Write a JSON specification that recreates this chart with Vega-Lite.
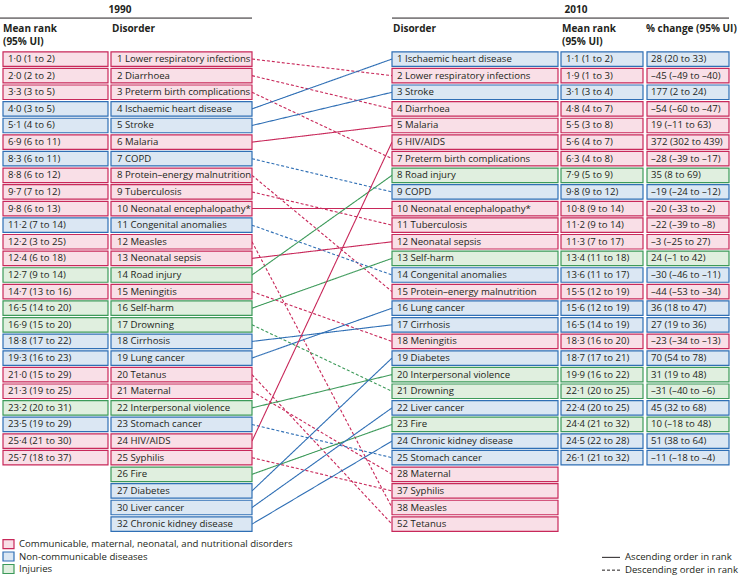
{
  "$schema": "https://vega.github.io/schema/vega-lite/v6.json",
  "width": 741,
  "height": 583,
  "autosize": "none",
  "padding": 0,
  "background": "white",
  "config": {
    "view": {"stroke": null},
    "axis": {"disable": true},
    "legend": {"disable": true},
    "text": {"font": "Open Sans", "fontSize": 9.6, "color": "#231f20", "baseline": "middle", "align": "left"}
  },
  "data": {"values": [
    {"name": "LRI", "cat": "C", "r90": 1, "label90": "1 Lower respiratory infections", "mr90": "1·0 (1 to 2)", "r10": 2, "label10": "2 Lower respiratory infections", "mr10": "1·9 (1 to 3)", "pc10": "–45 (–49 to –40)", "dir": "desc"},
    {"name": "Diarrhoea", "cat": "C", "r90": 2, "label90": "2 Diarrhoea", "mr90": "2·0 (2 to 2)", "r10": 4, "label10": "4 Diarrhoea", "mr10": "4·8 (4 to 7)", "pc10": "–54 (–60 to –47)", "dir": "desc"},
    {"name": "Preterm", "cat": "C", "r90": 3, "label90": "3 Preterm birth complications", "mr90": "3·3 (3 to 5)", "r10": 7, "label10": "7 Preterm birth complications", "mr10": "6·3 (4 to 8)", "pc10": "–28 (–39 to –17)", "dir": "desc"},
    {"name": "IHD", "cat": "N", "r90": 4, "label90": "4  Ischaemic heart disease", "mr90": "4·0 (3 to 5)", "r10": 1, "label10": "1 Ischaemic heart disease", "mr10": "1·1 (1 to 2)", "pc10": "28 (20 to 33)", "dir": "asc"},
    {"name": "Stroke", "cat": "N", "r90": 5, "label90": "5 Stroke", "mr90": "5·1 (4 to 6)", "r10": 3, "label10": "3 Stroke", "mr10": "3·1 (3 to 4)", "pc10": "177 (2 to 24)", "dir": "asc"},
    {"name": "Malaria", "cat": "C", "r90": 6, "label90": "6 Malaria", "mr90": "6·9 (6 to 11)", "r10": 5, "label10": "5 Malaria", "mr10": "5·5 (3 to 8)", "pc10": "19 (–11 to 63)", "dir": "asc"},
    {"name": "COPD", "cat": "N", "r90": 7, "label90": "7 COPD", "mr90": "8·3 (6 to 11)", "r10": 9, "label10": "9 COPD", "mr10": "9·8 (9 to 12)", "pc10": "–19 (–24 to –12)", "dir": "desc"},
    {"name": "PEM", "cat": "C", "r90": 8, "label90": "8 Protein–energy malnutrition", "mr90": "8·8 (6 to 12)", "r10": 15, "label10": "15 Protein–energy malnutrition", "mr10": "15·5 (12 to 19)", "pc10": "–44 (–53 to –34)", "dir": "desc"},
    {"name": "TB", "cat": "C", "r90": 9, "label90": "9 Tuberculosis", "mr90": "9·7 (7 to 12)", "r10": 11, "label10": "11 Tuberculosis", "mr10": "11·2 (9 to 14)", "pc10": "–22 (–39 to –8)", "dir": "desc"},
    {"name": "NE", "cat": "C", "r90": 10, "label90": "10 Neonatal encephalopathy*", "mr90": "9·8 (6 to 13)", "r10": 10, "label10": "10 Neonatal encephalopathy*", "mr10": "10·8 (9 to 14)", "pc10": "–20 (–33 to –2)", "dir": "asc"},
    {"name": "Congenital", "cat": "N", "r90": 11, "label90": "11 Congenital anomalies", "mr90": "11·2 (7 to 14)", "r10": 14, "label10": "14 Congenital anomalies", "mr10": "13·6 (11 to 17)", "pc10": "–30 (–46 to –11)", "dir": "desc"},
    {"name": "Measles", "cat": "C", "r90": 12, "label90": "12 Measles", "mr90": "12·2 (3 to 25)", "r10": 28, "label10": "38 Measles", "mr10": null, "pc10": null, "dir": "desc"},
    {"name": "NS", "cat": "C", "r90": 13, "label90": "13 Neonatal sepsis", "mr90": "12·4 (6 to 18)", "r10": 12, "label10": "12 Neonatal sepsis", "mr10": "11·3 (7 to 17)", "pc10": "–3 (–25 to 27)", "dir": "asc"},
    {"name": "Road", "cat": "I", "r90": 14, "label90": "14 Road injury", "mr90": "12·7 (9 to 14)", "r10": 8, "label10": "8 Road injury", "mr10": "7·9 (5 to 9)", "pc10": "35 (8 to 69)", "dir": "asc"},
    {"name": "Meningitis", "cat": "C", "r90": 15, "label90": "15 Meningitis", "mr90": "14·7 (13 to 16)", "r10": 18, "label10": "18 Meningitis", "mr10": "18·3 (16 to 20)", "pc10": "–23 (–34 to –13)", "dir": "desc"},
    {"name": "SelfHarm", "cat": "I", "r90": 16, "label90": "16 Self-harm", "mr90": "16·5 (14 to 20)", "r10": 13, "label10": "13 Self-harm", "mr10": "13·4 (11 to 18)", "pc10": "24 (–1 to 42)", "dir": "asc"},
    {"name": "Drowning", "cat": "I", "r90": 17, "label90": "17 Drowning", "mr90": "16·9 (15 to 20)", "r10": 21, "label10": "21 Drowning", "mr10": "22·1 (20 to 25)", "pc10": "–31 (–40 to –6)", "dir": "desc"},
    {"name": "Cirrhosis", "cat": "N", "r90": 18, "label90": "18 Cirrhosis", "mr90": "18·8 (17 to 22)", "r10": 17, "label10": "17 Cirrhosis", "mr10": "16·5 (14 to 19)", "pc10": "27 (19 to 36)", "dir": "asc"},
    {"name": "Lung", "cat": "N", "r90": 19, "label90": "19 Lung cancer", "mr90": "19·3 (16 to 23)", "r10": 16, "label10": "16 Lung cancer", "mr10": "15·6 (12 to 19)", "pc10": "36 (18 to 47)", "dir": "asc"},
    {"name": "Tetanus", "cat": "C", "r90": 20, "label90": "20 Tetanus", "mr90": "21·0 (15 to 29)", "r10": 29, "label10": "52 Tetanus", "mr10": null, "pc10": null, "dir": "desc"},
    {"name": "Maternal", "cat": "C", "r90": 21, "label90": "21 Maternal", "mr90": "21·3 (19 to 25)", "r10": 26, "label10": "28 Maternal", "mr10": null, "pc10": null, "dir": "desc"},
    {"name": "Violence", "cat": "I", "r90": 22, "label90": "22 Interpersonal violence", "mr90": "23·2 (20 to 31)", "r10": 20, "label10": "20 Interpersonal violence", "mr10": "19·9 (16 to 22)", "pc10": "31 (19 to 48)", "dir": "asc"},
    {"name": "Stomach", "cat": "N", "r90": 23, "label90": "23 Stomach cancer", "mr90": "23·5 (19 to 29)", "r10": 25, "label10": "25 Stomach cancer", "mr10": "26·1 (21 to 32)", "pc10": "–11 (–18 to –4)", "dir": "desc"},
    {"name": "HIV", "cat": "C", "r90": 24, "label90": "24 HIV/AIDS", "mr90": "25·4 (21 to 30)", "r10": 6, "label10": "6 HIV/AIDS", "mr10": "5·6 (4 to 7)", "pc10": "372 (302 to 439)", "dir": "asc"},
    {"name": "Syphilis", "cat": "C", "r90": 25, "label90": "25 Syphilis", "mr90": "25·7 (18 to 37)", "r10": 27, "label10": "37 Syphilis", "mr10": null, "pc10": null, "dir": "desc"},
    {"name": "Fire", "cat": "I", "r90": 26, "label90": "26 Fire", "mr90": null, "r10": 23, "label10": "23 Fire", "mr10": "24·4 (21 to 32)", "pc10": "10 (–18 to 48)", "dir": "asc"},
    {"name": "Diabetes", "cat": "N", "r90": 27, "label90": "27 Diabetes", "mr90": null, "r10": 19, "label10": "19 Diabetes", "mr10": "18·7 (17 to 21)", "pc10": "70 (54 to 78)", "dir": "asc"},
    {"name": "Liver", "cat": "N", "r90": 28, "label90": "30 Liver cancer", "mr90": null, "r10": 22, "label10": "22 Liver cancer", "mr10": "22·4 (20 to 25)", "pc10": "45 (32 to 68)", "dir": "asc"},
    {"name": "CKD", "cat": "N", "r90": 29, "label90": "32 Chronic kidney disease", "mr90": null, "r10": 24, "label10": "24 Chronic kidney disease", "mr10": "24·5 (22 to 28)", "pc10": "51 (38 to 64)", "dir": "asc"}
  ]},
  "layer": [
    {
      "mark": {"type": "rule", "strokeWidth": 1.1},
      "encoding": {
        "x": {"datum": 252, "type": "quantitative", "scale": {"domain": [0, 741], "nice": false, "zero": false}},
        "x2": {"datum": 392},
        "y": {"field": "r90", "type": "quantitative", "scale": {"domain": [-2.254, 32.243], "nice": false, "zero": false, "reverse": true}},
        "y2": {"field": "r10"},
        "color": {"field": "cat", "type": "nominal", "scale": {"domain": ["C", "N", "I"], "range": ["#c8285a", "#2f6fb5", "#3d9a5a"]}},
        "strokeDash": {"field": "dir", "type": "nominal", "scale": {"domain": ["asc", "desc"], "range": [[1, 0], [3, 2]]}}
      }
    },
    {
      "transform": [{"filter": "datum.mr90 != null"}],
      "mark": {"type": "bar", "orient": "horizontal", "size": 14.5, "strokeWidth": 1.2},
      "encoding": {
        "x": {"datum": 3, "type": "quantitative"},
        "x2": {"datum": 108},
        "y": {"field": "r90", "type": "quantitative"},
        "fill": {"field": "cat", "type": "nominal", "scale": {"domain": ["C", "N", "I"], "range": ["#f9dfe7", "#dbe7f3", "#e0efdf"]}},
        "stroke": {"field": "cat", "type": "nominal", "scale": {"domain": ["C", "N", "I"], "range": ["#c8285a", "#2f6fb5", "#3d9a5a"]}}
      }
    },
    {
      "mark": {"type": "bar", "orient": "horizontal", "size": 14.5, "strokeWidth": 1.2},
      "encoding": {
        "x": {"datum": 111, "type": "quantitative"},
        "x2": {"datum": 252},
        "y": {"field": "r90", "type": "quantitative"},
        "fill": {"field": "cat", "type": "nominal"},
        "stroke": {"field": "cat", "type": "nominal"}
      }
    },
    {
      "mark": {"type": "bar", "orient": "horizontal", "size": 14.5, "strokeWidth": 1.2},
      "encoding": {
        "x": {"datum": 392, "type": "quantitative"},
        "x2": {"datum": 558},
        "y": {"field": "r10", "type": "quantitative"},
        "fill": {"field": "cat", "type": "nominal"},
        "stroke": {"field": "cat", "type": "nominal"}
      }
    },
    {
      "transform": [{"filter": "datum.mr10 != null"}],
      "mark": {"type": "bar", "orient": "horizontal", "size": 14.5, "strokeWidth": 1.2},
      "encoding": {
        "x": {"datum": 561, "type": "quantitative"},
        "x2": {"datum": 643},
        "y": {"field": "r10", "type": "quantitative"},
        "fill": {"field": "cat", "type": "nominal"},
        "stroke": {"field": "cat", "type": "nominal"}
      }
    },
    {
      "transform": [{"filter": "datum.pc10 != null"}],
      "mark": {"type": "bar", "orient": "horizontal", "size": 14.5, "strokeWidth": 1.2},
      "encoding": {
        "x": {"datum": 647, "type": "quantitative"},
        "x2": {"datum": 729},
        "y": {"field": "r10", "type": "quantitative"},
        "fill": {"field": "cat", "type": "nominal"},
        "stroke": {"field": "cat", "type": "nominal"}
      }
    },
    {
      "transform": [{"filter": "datum.mr90 != null"}],
      "mark": {"type": "text"},
      "encoding": {"x": {"datum": 8, "type": "quantitative"}, "y": {"field": "r90", "type": "quantitative"}, "text": {"field": "mr90"}}
    },
    {
      "mark": {"type": "text"},
      "encoding": {"x": {"datum": 117, "type": "quantitative"}, "y": {"field": "r90", "type": "quantitative"}, "text": {"field": "label90"}}
    },
    {
      "mark": {"type": "text"},
      "encoding": {"x": {"datum": 397, "type": "quantitative"}, "y": {"field": "r10", "type": "quantitative"}, "text": {"field": "label10"}}
    },
    {
      "transform": [{"filter": "datum.mr10 != null"}],
      "mark": {"type": "text"},
      "encoding": {"x": {"datum": 566, "type": "quantitative"}, "y": {"field": "r10", "type": "quantitative"}, "text": {"field": "mr10"}}
    },
    {
      "transform": [{"filter": "datum.pc10 != null"}],
      "mark": {"type": "text"},
      "encoding": {"x": {"datum": 651, "type": "quantitative"}, "y": {"field": "r10", "type": "quantitative"}, "text": {"field": "pc10"}}
    },
    {
      "data": {"values": [{}]},
      "layer": [
        {"mark": {"type": "rule", "color": "#231f20", "strokeWidth": 1}, "encoding": {"x": {"datum": 0, "type": "quantitative"}, "x2": {"datum": 252}, "y": {"datum": -1.467, "type": "quantitative"}}},
        {"mark": {"type": "rule", "color": "#231f20", "strokeWidth": 1}, "encoding": {"x": {"datum": 392, "type": "quantitative"}, "x2": {"datum": 729}, "y": {"datum": -1.467, "type": "quantitative"}}},
        {"mark": {"type": "text", "text": "1990", "fontWeight": "bold", "fontSize": 10, "align": "center"}, "encoding": {"x": {"datum": 120, "type": "quantitative"}, "y": {"datum": -1.96, "type": "quantitative"}}},
        {"mark": {"type": "text", "text": "2010", "fontWeight": "bold", "fontSize": 10, "align": "center"}, "encoding": {"x": {"datum": 576, "type": "quantitative"}, "y": {"datum": -1.96, "type": "quantitative"}}},
        {"mark": {"type": "text", "text": "Mean rank", "fontWeight": "bold", "fontSize": 10}, "encoding": {"x": {"datum": 3, "type": "quantitative"}, "y": {"datum": -0.82, "type": "quantitative"}}},
        {"mark": {"type": "text", "text": "(95% UI)", "fontWeight": "bold", "fontSize": 10}, "encoding": {"x": {"datum": 3, "type": "quantitative"}, "y": {"datum": 0.0, "type": "quantitative"}}},
        {"mark": {"type": "text", "text": "Disorder", "fontWeight": "bold", "fontSize": 10}, "encoding": {"x": {"datum": 112, "type": "quantitative"}, "y": {"datum": -0.82, "type": "quantitative"}}},
        {"mark": {"type": "text", "text": "Disorder", "fontWeight": "bold", "fontSize": 10}, "encoding": {"x": {"datum": 393, "type": "quantitative"}, "y": {"datum": -0.82, "type": "quantitative"}}},
        {"mark": {"type": "text", "text": "Mean rank", "fontWeight": "bold", "fontSize": 10}, "encoding": {"x": {"datum": 562, "type": "quantitative"}, "y": {"datum": -0.82, "type": "quantitative"}}},
        {"mark": {"type": "text", "text": "(95% UI)", "fontWeight": "bold", "fontSize": 10}, "encoding": {"x": {"datum": 562, "type": "quantitative"}, "y": {"datum": 0.0, "type": "quantitative"}}},
        {"mark": {"type": "text", "text": "% change (95% UI)", "fontWeight": "bold", "fontSize": 10}, "encoding": {"x": {"datum": 646, "type": "quantitative"}, "y": {"datum": -0.82, "type": "quantitative"}}},
        {"mark": {"type": "bar", "orient": "horizontal", "size": 9, "fill": "#f9dfe7", "stroke": "#c8285a", "strokeWidth": 1.2}, "encoding": {"x": {"datum": 3, "type": "quantitative"}, "x2": {"datum": 14}, "y": {"datum": 30.2, "type": "quantitative"}}},
        {"mark": {"type": "bar", "orient": "horizontal", "size": 9, "fill": "#dbe7f3", "stroke": "#2f6fb5", "strokeWidth": 1.2}, "encoding": {"x": {"datum": 3, "type": "quantitative"}, "x2": {"datum": 14}, "y": {"datum": 30.95, "type": "quantitative"}}},
        {"mark": {"type": "bar", "orient": "horizontal", "size": 9, "fill": "#e0efdf", "stroke": "#3d9a5a", "strokeWidth": 1.2}, "encoding": {"x": {"datum": 3, "type": "quantitative"}, "x2": {"datum": 14}, "y": {"datum": 31.7, "type": "quantitative"}}},
        {"mark": {"type": "text", "text": "Communicable, maternal, neonatal, and nutritional disorders"}, "encoding": {"x": {"datum": 19, "type": "quantitative"}, "y": {"datum": 30.2, "type": "quantitative"}}},
        {"mark": {"type": "text", "text": "Non-communicable diseases"}, "encoding": {"x": {"datum": 19, "type": "quantitative"}, "y": {"datum": 30.95, "type": "quantitative"}}},
        {"mark": {"type": "text", "text": "Injuries"}, "encoding": {"x": {"datum": 19, "type": "quantitative"}, "y": {"datum": 31.7, "type": "quantitative"}}},
        {"mark": {"type": "rule", "color": "#231f20", "strokeWidth": 1}, "encoding": {"x": {"datum": 602, "type": "quantitative"}, "x2": {"datum": 620}, "y": {"datum": 31.0, "type": "quantitative"}}},
        {"mark": {"type": "rule", "color": "#231f20", "strokeWidth": 1, "strokeDash": [3, 2]}, "encoding": {"x": {"datum": 602, "type": "quantitative"}, "x2": {"datum": 620}, "y": {"datum": 31.77, "type": "quantitative"}}},
        {"mark": {"type": "text", "text": "Ascending order in rank"}, "encoding": {"x": {"datum": 625, "type": "quantitative"}, "y": {"datum": 31.0, "type": "quantitative"}}},
        {"mark": {"type": "text", "text": "Descending order in rank"}, "encoding": {"x": {"datum": 625, "type": "quantitative"}, "y": {"datum": 31.77, "type": "quantitative"}}}
      ]
    }
  ]
}
